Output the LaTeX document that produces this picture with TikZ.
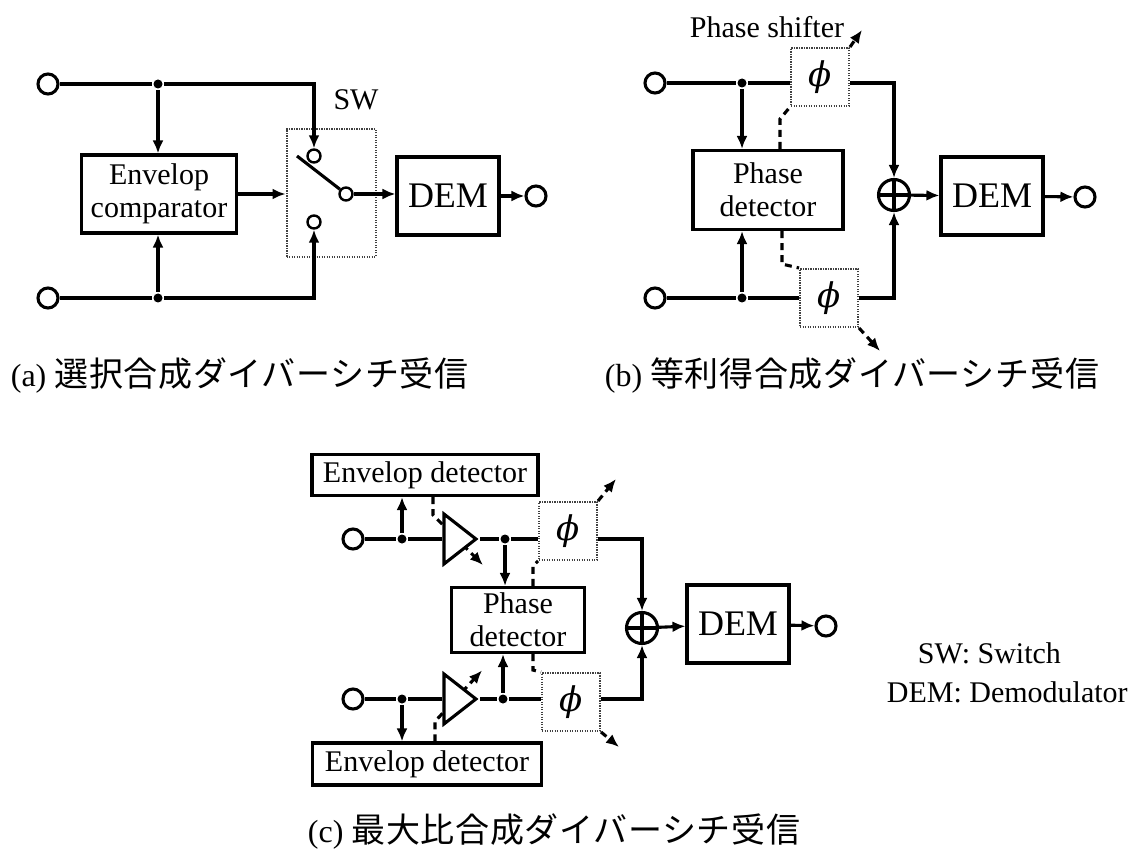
\documentclass[tikz,border=0pt]{standalone}
\usepackage{fontspec}
\setmainfont{Liberation Serif}
\newfontfamily\jpfont[LetterSpace=2]{Noto Sans CJK JP}
\newfontfamily\phifont{DejaVu Serif}
\usetikzlibrary{arrows.meta,shapes.geometric}

\tikzset{
  block/.style={draw, rectangle, align=center, inner sep=0pt, font=\fontsize{30}{33}\selectfont},
  demblock/.style={block, minimum width=102pt, minimum height=78pt, font=\fontsize{36}{36}\selectfont},
  port/.style={circle, draw, minimum size=20pt, inner sep=0pt},
  junct/.style={circle, fill, minimum size=9pt, inner sep=0pt},
  contact/.style={circle, draw, minimum size=13pt, inner sep=0pt, line width=2.4pt},
  shifter/.style={draw=black!75, dash pattern=on 1.3pt off 1.2pt, line width=2pt, fill=white,
    minimum width=58pt, minimum height=58pt, inner sep=0pt,
    font=\fontsize{34}{34}\selectfont\phifont\itshape},
  sumnode/.style={circle, draw, minimum size=31pt, inner sep=0pt,
    path picture={\draw (path picture bounding box.north) -- (path picture bounding box.south)
      (path picture bounding box.west) -- (path picture bounding box.east);}},
  amp/.style={draw, fill=white, isosceles triangle, isosceles triangle stretches,
    minimum height=32pt, minimum width=50pt, inner sep=0pt},
  ctrl/.style={dash pattern=on 7pt off 5pt},
  caption/.style={anchor=west, font=\fontsize{32}{34}\selectfont},
}

\begin{document}
\begin{tikzpicture}[x=1pt, y=-1pt, line width=3.1pt, >={Latex[length=13pt,width=11pt]},
  font=\fontsize{30}{33}\selectfont]
\useasboundingbox (0,0) rectangle (1146,850);

% (a)
\node[port] (a1) at (48,84) {};
\node[port] (a2) at (48,298) {};
\node[junct] (aj1) at (158,84) {};
\node[junct] (aj2) at (158,298) {};
\node[block, minimum width=155pt, minimum height=78pt] (cmp) at (159,194) {Envelop\\comparator};
\node[shifter, minimum width=89pt, minimum height=128pt, fill=none] (sw) at (331,193) {};
\node (swlbl) at (356,100) {SW};
\node[contact] (sw1) at (314,156) {};
\node[contact] (sw2) at (314,222) {};
\node[contact] (sw3) at (346,194) {};
\coordinate (blade) at (297,156);
\node[demblock] (dem1) at (448,196) {DEM};
\node[port] (ao) at (536,196) {};
\draw[->] (a1) -- (aj1) -| (sw1);
\draw[->] (a2) -- (aj2) -| (sw2);
\path[->] (aj1) edge (aj1 |- cmp.north) (aj2) edge (aj2 |- cmp.south);
\draw[->] (cmp.east) -- (cmp.east -| sw.west);
\draw (blade) -- (sw3);
\draw[->] (sw3) -- (sw3 -| dem1.west);
\draw[->] (dem1) -- (ao);

% (b)
\node[port] (b1) at (655,83) {};
\node[port] (b2) at (655,298) {};
\node[junct] (bj1) at (742,83) {};
\node[junct] (bj2) at (742,298) {};
\node[shifter] (ps1) at (820,77) {ϕ};
\node[shifter] (ps2) at (829,298) {ϕ};
\node[block, minimum width=150pt, minimum height=79pt] (pd1) at (768,190) {Phase\\detector};
\node[sumnode] (bs) at (894,195) {};
\node[demblock] (dem2) at (992,196) {DEM};
\node[port] (bo) at (1085,197) {};
\node (pslbl) at (767,27) {Phase shifter};
\coordinate (pstip) at (862,30);
\draw (b1) -- (bj1) -- (bj1 -| ps1.west);
\draw[->] (ps1.east |- bj1) -| (bs);
\draw (b2) -- (bj2) -- (ps2);
\draw[->] (ps2) -| (bs);
\path[->] (bj1) edge (bj1 |- pd1.north) (bj2) edge (bj2 |- pd1.south);
\path[->] (bs) edge (dem2) (dem2) edge (bo);
\draw[ctrl] ([xshift=12pt]pd1.north) -- ++(0,-30) -- (ps1.south west);
\draw[ctrl] ([xshift=14pt]pd1.south) -- ++(0,33) -- (ps2.north west);
\draw[ctrl,->] (ps1.north east) -- (pstip);
\draw[ctrl,->] (ps2.south east) -- ++(21,23);

% (c)
\node[block, minimum width=226pt, minimum height=41pt] (env1) at (425,475) {Envelop detector};
\node[block, minimum width=229pt, minimum height=42pt] (env2) at (427,764) {Envelop detector};
\draw[ctrl,->] ([xshift=8pt]env1.south) -- ++(0,18) -- ++(50,50);
\draw[ctrl,->] ([xshift=8pt]env2.north) -- ++(0,-20) -- ++(47,-51);
\node[port] (c1) at (353,539) {};
\node[port] (c2) at (353,699) {};
\node[junct] (cj1) at (402,539) {};
\node[junct] (cj2) at (402,699) {};
\node[amp, anchor=apex] (amp1) at (480,539) {};
\node[amp, anchor=apex] (amp2) at (480,699) {};
\node[junct] (cj3) at (505,539) {};
\node[junct] (cj4) at (503,699) {};
\node[shifter] (ps3) at (568,531) {ϕ};
\node[shifter] (ps4) at (571,702) {ϕ};
\node[block, minimum width=133pt, minimum height=65pt] (pd2) at (518,620) {Phase\\detector};
\node[sumnode] (cs) at (642,628) {};
\node[demblock] (dem3) at (738,624) {DEM};
\node[port] (co) at (826,626) {};
\draw (c1) -- (cj1) -- (amp1);
\draw (c2) -- (cj2) -- (amp2);
\draw (amp1.apex) -- (cj3) -- (cj3 -| ps3.west);
\draw (amp2.apex) -- (cj4) -- (cj4 -| ps4.west);
\path[->] (cj1) edge (cj1 |- env1.south) (cj2) edge (cj2 |- env2.north);
\path[->] (cj3) edge (cj3 |- pd2.north) (cj4) edge (cj4 |- pd2.south);
\draw[->] (ps3.east |- cj3) -| (cs);
\draw[->] (ps4.east |- cj4) -| (cs);
\path[->] (cs) edge (dem3) (dem3) edge (co);
\draw[ctrl] ([xshift=15pt]pd2.north) -- ++(0,-20) -- (ps3.south west);
\draw[ctrl] ([xshift=15pt]pd2.south) -- ++(0,16) -- (ps4.north west);
\draw[ctrl,->] (ps3.north east) -- ++(18,-22);
\draw[ctrl,->] (ps4.south east) -- ++(18,15);

% legend and captions
\node[anchor=base west] (lsw) at (913,663) {SW: Switch};
\node[anchor=base west] (ldem) at (882,702) {DEM: Demodulator};
\node[caption] (capa) at (6,376) {(a) {\jpfont\fontsize{34}{34}\selectfont 選択合成ダイバーシチ受信}};
\node[caption] (capb) at (600,376) {(b) {\jpfont\fontsize{34}{34}\selectfont 等利得合成ダイバーシチ受信}};
\node[caption] (capc) at (303,832) {(c) {\jpfont\fontsize{34}{34}\selectfont 最大比合成ダイバーシチ受信}};
\end{tikzpicture}
\end{document}
